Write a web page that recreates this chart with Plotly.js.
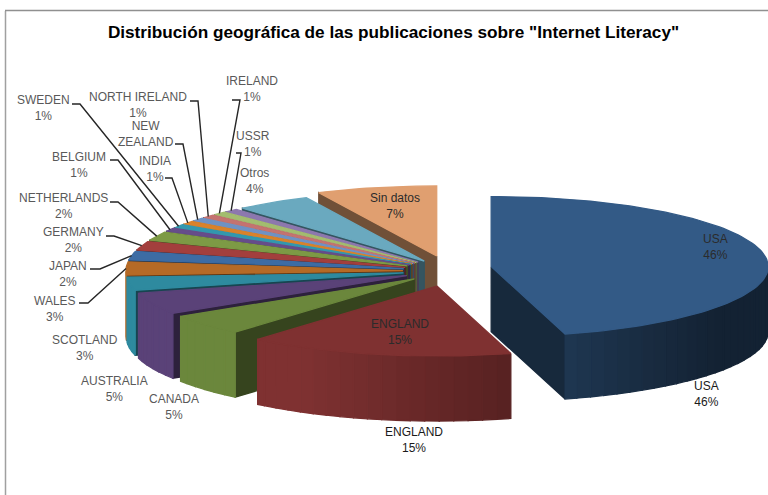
<!DOCTYPE html>
<html>
<head>
<meta charset="utf-8">
<script src="https://cdn.plot.ly/plotly-3.0.1.min.js"></script>
<style>html,body{margin:0;padding:0;background:#fff}</style>
</head>
<body>
<div id="plot" style="width:768px;height:495px"></div>
<script>
// Datos (las etiquetas van redondeadas, las porciones estimadas)
const categories = ["USA", "ENGLAND", "CANADA", "AUSTRALIA", "SCOTLAND", "WALES", "JAPAN", "GERMANY", "NETHERLANDS", "BELGIUM", "SWEDEN", "INDIA", "NEW ZEALAND", "NORTH IRELAND", "IRELAND", "USSR", "Otros", "Sin datos"];
const values = [45.7, 15.5, 4.8, 5, 3, 3, 2, 2, 2, 0.8, 0.8, 0.8, 0.8, 0.8, 0.8, 0.8, 4.4, 7];

// Colores de la cara superior de cada porcion
const colors = ["#335a86", "#7f3131", "#6b873c", "#5a4278", "#2e8a9f", "#b56a26", "#3d6ca4", "#a33f3d", "#7d9a45", "#664d8a", "#3398ae", "#d9822b", "#6f92c4", "#c47370", "#a3bc6f", "#8d78ae", "#6aa9bf", "#e09f70"];

// Geometria del pastel en pixeles del eje
const cx = 450, cy = 271, rx = 277, ry = 70, depth = 65;
const pull = 0.17, pullBig = 0.22, pullUsa = 0.15, usaLift = 3;
const total = values.reduce((a, b) => a + b, 0);

function shade(hex, f) {
  const n = parseInt(hex.slice(1), 16);
  const r = Math.round((n >> 16) * f);
  const g = Math.round(((n >> 8) & 255) * f);
  const b = Math.round((n & 255) * f);
  return `rgb(${r},${g},${b})`;
}

// Oscurece hacia la derecha, como el degradado del lateral
function rimShade(x) {
  return Math.min(1, Math.max(0.38, 1 - (x - 300) / 670));
}

const rad = (d) => (d * Math.PI) / 180;
const traces = [];

function poly(xs, ys, color) {
  traces.push({
    x: xs, y: ys, type: "scatter", mode: "lines", fill: "toself",
    fillcolor: color, line: { color: color, width: 1.3 },
    hoverinfo: "skip", showlegend: false,
  });
}

// Angulos (horario desde arriba) y vertice de cada porcion
const slices = [];
let acc = 0;
values.forEach((v, i) => {
  const a0 = (acc / total) * 360;
  acc += v;
  const a1 = (acc / total) * 360;
  const mid = (a0 + a1) / 2;
  let p = pull;
  if (categories[i] === "USA") p = pullUsa;
  if (categories[i] === "ENGLAND" || categories[i] === "Sin datos") p = pullBig;
  slices.push({
    a0, a1, mid,
    ax: cx + p * rx * Math.sin(rad(mid)),
    ay: cy - p * ry * Math.cos(rad(mid)) - (i === 0 ? usaLift : 0),
  });
});

function rimX(s, a) { return s.ax + rx * Math.sin(rad(a)); }
function rimY(s, a) { return s.ay - ry * Math.cos(rad(a)); }

function drawSlice(i) {
  const s = slices[i];
  const color = colors[i];

  // Pared radial visible
  [s.a0, s.a1].forEach((a, k) => {
    const visible = k === 0 ? Math.sin(rad(a)) < -0.001 : Math.sin(rad(a)) > 0.001;
    if (!visible) return;
    const x = rimX(s, a), y = rimY(s, a);
    poly([s.ax, x, x, s.ax, s.ax], [s.ay, y, y + depth, s.ay + depth, s.ay], shade(color, i === 0 ? 0.45 : 0.5));
  });

  // Lateral exterior por tramos
  const step = 3;
  for (let a = s.a0; a < s.a1; a += step) {
    const b = Math.min(a + step, s.a1);
    if (Math.cos(rad((a + b) / 2)) > 0) continue;
    const xa = rimX(s, a), xb = rimX(s, b), ya = rimY(s, a), yb = rimY(s, b);
    poly([xa, xb, xb, xa, xa], [ya, yb, yb + depth, ya + depth, ya], shade(color, rimShade((xa + xb) / 2)));
  }

  // Cara superior
  const xs = [s.ax], ys = [s.ay];
  for (let a = s.a0; a < s.a1; a += 1.5) {
    xs.push(rimX(s, a));
    ys.push(rimY(s, a));
  }
  xs.push(rimX(s, s.a1), s.ax);
  ys.push(rimY(s, s.a1), s.ay);
  poly(xs, ys, color);
}

// De atras hacia delante: USA, Sin datos y luego en sentido antihorario
drawSlice(0);
for (let i = values.length - 1; i >= 1; i--) drawSlice(i);

// Etiquetas exteriores: texto, centro
const outLabels = [
  ["USA<br>46%", 706, 394],
  ["ENGLAND<br>15%", 414, 440],
  ["CANADA<br>5%", 174, 407],
  ["AUSTRALIA<br>5%", 114, 389],
  ["SCOTLAND<br>3%", 85, 348],
  ["WALES<br>3%", 55, 309],
  ["JAPAN<br>2%", 68, 274],
  ["GERMANY<br>2%", 73, 240],
  ["NETHERLANDS<br>2%", 63, 206],
  ["BELGIUM<br>1%", 79, 165],
  ["SWEDEN<br>1%", 43, 108],
  ["INDIA<br>1%", 155, 169],
  ["NEW<br>ZEALAND", 146, 134],
  ["NORTH IRELAND<br>1%", 138, 105],
  ["IRELAND<br>1%", 252, 89],
  ["USSR<br>1%", 253, 144],
  ["Otros<br>4%", 254, 181],
];
const inLabels = [
  ["USA<br>46%", 715, 247],
  ["ENGLAND<br>15%", 400, 332],
  ["Sin datos<br>7%", 395, 206],
];

// Lineas guia: [indice de porcion, x inicio, x codo, y]
const leaders = [
  [5, 79, 88, 303],
  [6, 90, 100, 269],
  [7, 106, 114, 236],
  [8, 110, 118, 202],
  [9, 110, 118, 160],
  [10, 72, 80, 104],
  [11, 165, 172, 178],
  [12, 175, 183, 144],
  [13, 190, 198, 101],
  [14, 232, 240, 100],
  [15, 236, 241, 153],
];
leaders.forEach((l) => {
  const s = slices[l[0]];
  traces.push({
    x: [l[1], l[2], rimX(s, s.mid)],
    y: [l[3], l[3], rimY(s, s.mid)],
    type: "scatter", mode: "lines",
    line: { color: "#262626", width: 1.4 },
    hoverinfo: "skip", showlegend: false,
  });
});

const annotations = [];
outLabels.forEach((l) => {
  annotations.push({
    x: l[1], y: l[2], xref: "x", yref: "y", text: l[0], showarrow: false,
    font: { family: "Liberation Sans, Arial, sans-serif", size: 12, color: l[1] === 414 || l[1] === 706 ? "#1a1a1a" : "#595959" },
  });
});
inLabels.forEach((l) => {
  annotations.push({
    x: l[1], y: l[2], xref: "x", yref: "y", text: l[0], showarrow: false,
    font: { family: "Liberation Sans, Arial, sans-serif", size: 12, color: "#2b2b2b" },
  });
});

const layout = {
  width: 768,
  height: 495,
  margin: { l: 0, r: 0, t: 0, b: 0 },
  paper_bgcolor: "#ffffff",
  plot_bgcolor: "#ffffff",
  title: {
    text: 'Distribución geográfica de las publicaciones sobre "Internet Literacy"',
    font: { family: "Liberation Sans, Arial, sans-serif", size: 17.2, color: "#000000", weight: "bold" },
    x: 393.5 / 768, xanchor: "center", y: 1 - 32 / 495, yanchor: "middle",
  },
  xaxis: { range: [0, 768], visible: false, fixedrange: true },
  yaxis: { range: [495, 0], visible: false, fixedrange: true },
  annotations: annotations,
  shapes: [
    { type: "line", xref: "x", yref: "y", x0: 5.5, x1: 5.5, y0: 11, y1: 495, line: { color: "#a0a0a0", width: 1.5 } },
    { type: "line", xref: "x", yref: "y", x0: 5, x1: 768, y0: 10.5, y1: 10.5, line: { color: "#909090", width: 1.5 } },
  ],
};

Plotly.newPlot("plot", traces, layout, { displayModeBar: false, staticPlot: true });
</script>
</body>
</html>
